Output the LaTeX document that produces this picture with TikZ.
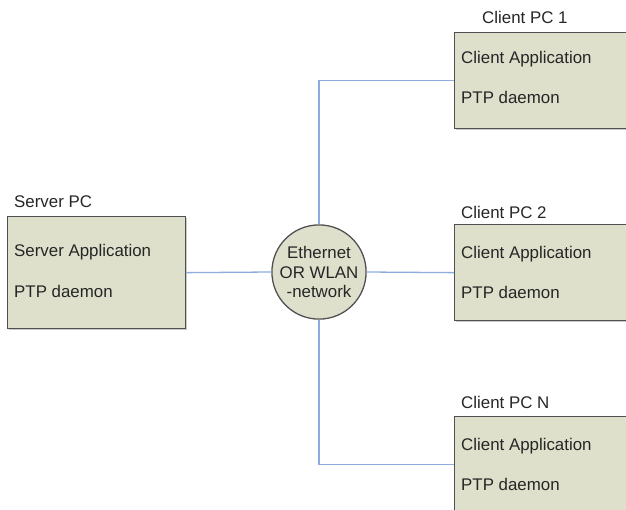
\documentclass[tikz,border=0pt]{standalone}
\usepackage{fontspec}
\setmainfont{Liberation Sans}
\usetikzlibrary{shadows}
\definecolor{pcfill}{RGB}{222,224,204}
\definecolor{pcline}{RGB}{80,80,80}
\definecolor{netblue}{RGB}{141,172,222}
\newcommand{\px}{0.03cm}
\begin{document}
\begin{tikzpicture}[x=0.03cm, y=-0.03cm,
  pcbox/.style={draw=pcline, line width=1.1pt, fill=pcfill, anchor=north west,
    inner sep=0pt, drop shadow={shadow xshift=0.035cm, shadow yshift=-0.035cm, fill=black!35, opacity=0.6}},
  netcircle/.style={circle, draw=pcline, line width=1.1pt, fill=pcfill, minimum size=94*\px,
    inner sep=0pt, align=center, text=black!85, font=\fontsize{14.4}{17}\selectfont},
  txt/.style={anchor=base west, inner sep=0pt, text=black!85, font=\fontsize{14.4}{17}\selectfont},
  link/.style={draw=netblue, line width=1.1pt}]
\useasboundingbox (0,0) rectangle (626,509);
\clip (0,0) rectangle (626,509);

\node[pcbox, minimum width=178*\px, minimum height=112*\px] (server) at (7,216) {};
\node[txt] (serverlbl) at (14,207) {Server PC};
\node[txt] (serverapp) at (14,256) {Server Application};
\node[txt] (serverptp) at (14,297) {PTP daemon};

\node[netcircle] (net) at (319,272) {Ethernet\\OR WLAN\\-network};

\node[pcbox, minimum width=190*\px, minimum height=96*\px] (client1) at (454,32) {};
\node[txt] (client1lbl) at (482,24) {Client PC 1};
\node[txt] (client1app) at (461,64) {Client Application};
\node[txt] (client1ptp) at (461,104) {PTP daemon};

\node[pcbox, minimum width=190*\px, minimum height=96*\px] (client2) at (454,224) {};
\node[txt] (client2lbl) at (461,218) {Client PC 2};
\node[txt] (client2app) at (461,258) {Client Application};
\node[txt] (client2ptp) at (461,298) {PTP daemon};

\node[pcbox, minimum width=190*\px, minimum height=96*\px] (clientN) at (454,416) {};
\node[txt] (clientNlbl) at (461,408) {Client PC N};
\node[txt] (clientNapp) at (461,450) {Client Application};
\node[txt] (clientNptp) at (461,490) {PTP daemon};

\draw[link] (server.east) -- (net.west);
\draw[link] (net.north) |- (client1.west);
\draw[link] (net.east) -- (client2.west);
\draw[link] (net.south) |- (clientN.west);

\end{tikzpicture}
\end{document}
